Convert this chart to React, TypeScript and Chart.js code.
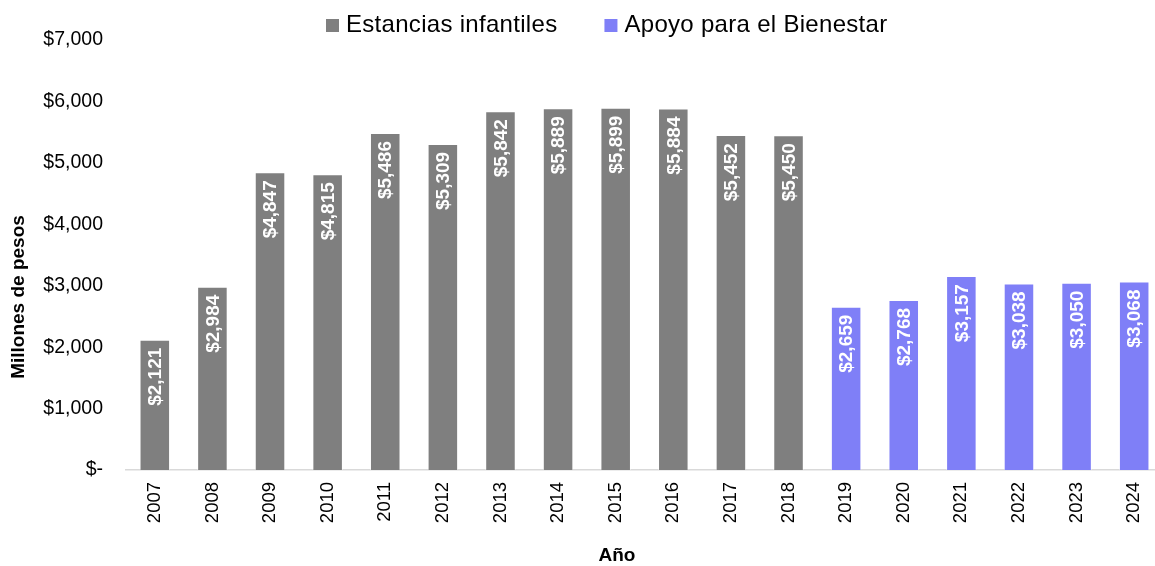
import React, { useEffect, useRef } from "react";
import { Chart, registerables } from "chart.js";

Chart.register(...registerables);

const years = ["2007","2008","2009","2010","2011","2012","2013","2014","2015","2016","2017","2018","2019","2020","2021","2022","2023","2024"];
const estancias = [2121, 2984, 4847, 4815, 5486, 5309, 5842, 5889, 5899, 5884, 5452, 5450, null, null, null, null, null, null];
const apoyo = [null, null, null, null, null, null, null, null, null, null, null, null, 2659, 2768, 3157, 3038, 3050, 3068];
const seriesNames = ["Estancias infantiles", "Apoyo para el Bienestar"];
const seriesColors = ["#7f7f7f", "#7f7ff7"];
const yTitle = "Millones de pesos";
const xTitle = "Año";

const FONT = "'Liberation Sans', Arial, sans-serif";
const fmt = (v: number) => "$" + v.toLocaleString("en-US");

const overlayPlugin = {
  id: "overlay",
  afterDatasetsDraw(chart: any) {
    const ctx = chart.ctx;
    chart.data.datasets.forEach((ds: any, di: number) => {
      const meta = chart.getDatasetMeta(di);
      meta.data.forEach((el: any, i: number) => {
        const v = ds.data[i];
        if (v == null) return;
        ctx.save();
        ctx.translate(el.x, el.y + 8);
        ctx.rotate(-Math.PI / 2);
        ctx.font = `bold 19px ${FONT}`;
        ctx.fillStyle = "#ffffff";
        ctx.textAlign = "right";
        ctx.textBaseline = "middle";
        ctx.fillText(fmt(v), 0, 1);
        ctx.restore();
      });
    });
  },
  afterDraw(chart: any) {
    const ctx = chart.ctx;
    ctx.save();
    ctx.font = `24px ${FONT}`;
    try { (ctx as any).letterSpacing = "0.3px"; } catch (e) {}
    const box = 13, gapBT = 7, gapItems = 47;
    const widths = chart.data.datasets.map((d: any) => ctx.measureText(d.label).width);
    let x = 326;
    const cy = 24;
    chart.data.datasets.forEach((d: any, i: number) => {
      ctx.fillStyle = d.backgroundColor;
      ctx.fillRect(x, cy + 1.5 - box / 2, box, box);
      x += box + gapBT;
      ctx.fillStyle = "#000000";
      ctx.textAlign = "left";
      ctx.textBaseline = "middle";
      ctx.fillText(d.label, x, cy + 1);
      x += widths[i] + gapItems;
    });
    try { (ctx as any).letterSpacing = "0px"; } catch (e) {}
    ctx.font = `bold 19px ${FONT}`;
    ctx.fillStyle = "#000000";
    ctx.textAlign = "center";
    ctx.textBaseline = "middle";
    ctx.fillText(xTitle, 617, 556);
    ctx.translate(19, 297);
    ctx.rotate(-Math.PI / 2);
    ctx.fillText(yTitle, 0, 0);
    ctx.restore();
  },
};

export default function App() {
  const ref = useRef<HTMLCanvasElement | null>(null);
  useEffect(() => {
    if (!ref.current) return;
    const chart = new Chart(ref.current, {
      type: "bar",
      data: {
        labels: years,
        datasets: [
          { label: seriesNames[0], data: estancias, backgroundColor: seriesColors[0], borderColor: "rgba(255,255,255,0.45)", borderWidth: 1 },
          { label: seriesNames[1], data: apoyo, backgroundColor: seriesColors[1], borderColor: "rgba(255,255,255,0.45)", borderWidth: 1 },
        ],
      },
      options: {
        responsive: false,
        devicePixelRatio: 1,
        animation: false,
        layout: { padding: { top: 40, right: 54, bottom: 0, left: 0 } },
        datasets: { bar: { barPercentage: 1, categoryPercentage: 0.53 } },
        plugins: { legend: { display: false }, tooltip: { enabled: false } },
        scales: {
          x: {
            stacked: true,
            grid: { display: false, drawTicks: false },
            border: { display: true, color: "#d9d9d9", width: 1.5 },
            ticks: {
              autoSkip: false,
              minRotation: 90,
              maxRotation: 90,
              padding: 12,
              color: "#000000",
              font: { family: FONT, size: 18.5 },
            },
            afterFit: (s: any) => { s.height = 96; },
          },
          y: {
            stacked: true,
            min: 0,
            max: 7000,
            grid: { display: false, drawTicks: false },
            border: { display: false },
            ticks: {
              stepSize: 1000,
              padding: 23,
              color: "#000000",
              font: { family: FONT, size: 19.5 },
              callback: (v: any) => (Number(v) === 0 ? "$-" : fmt(Number(v))),
            },
            afterFit: (s: any) => { s.width = 126; },
          },
        },
      },
      plugins: [overlayPlugin],
    });
    return () => chart.destroy();
  }, []);
  return (
    <div style={{ position: "absolute", left: 0, top: 0, width: 1155, height: 566, overflow: "hidden", background: "#fff" }}>
      <canvas ref={ref} width={1217} height={566} style={{ display: "block" }} />
    </div>
  );
}
